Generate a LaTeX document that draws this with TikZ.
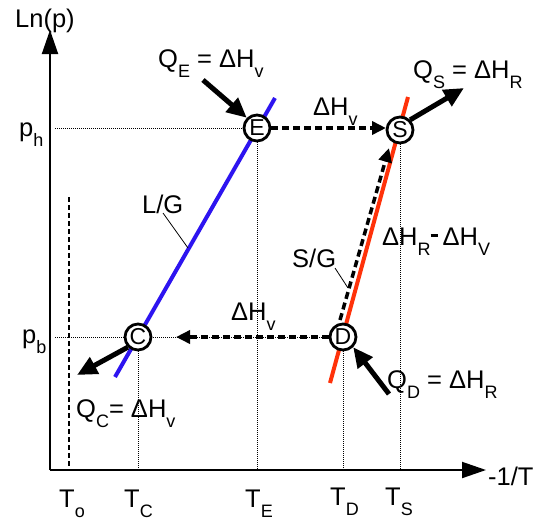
\documentclass[tikz,border=0pt]{standalone}
\usepackage{fontspec}
\setmainfont{Liberation Sans}
\usetikzlibrary{arrows.meta,calc}
\newcommand\sbs[1]{\raisebox{-0.4em}{\fontsize{18}{18}\selectfont #1}}
\definecolor{lgblue}{RGB}{45,20,240}
\definecolor{sgred}{RGB}{255,50,10}
\begin{document}
\begin{tikzpicture}[x=1pt,y=-1pt,
 lbl/.style={anchor=base west,inner sep=0,font=\fontsize{25.5}{28}\selectfont},
 state/.style={circle,draw,line width=2.8pt,fill=white,minimum size=26pt,inner sep=0,font=\fontsize{23}{23}\selectfont},
 axis/.style={line width=2pt,-{Triangle[length=24pt,width=16pt]}},
 guide/.style={line width=0.8pt,dash pattern=on 1pt off 1pt},
 heat/.style={line width=5pt,-{Triangle[length=20pt,width=18pt]}},
 flow/.style={line width=3.5pt,dash pattern=on 7pt off 4pt,-{Triangle[length=14pt,width=13pt]}},
 leader/.style={line width=0.8pt},
 equil/.style={line width=4pt}]
\useasboundingbox (0,0) rectangle (545,523);
% axes
\coordinate (O) at (50,470);
\coordinate (Ytop) at (50,30);
\coordinate (Xend) at (486,470);
\draw[axis] (O) -- (Ytop);
\draw[axis] (O) -- (Xend);
% equilibrium lines
\coordinate (LG1) at (115,377);
\coordinate (LG2) at (275,98);
\coordinate (SG1) at (330,383);
\coordinate (SG2) at (408,97);
% T_o line
\coordinate (To1) at (69,197);
\coordinate (To2) at (69,470);
\draw[line width=2.5pt,dash pattern=on 5pt off 3pt] (To1) -- (To2);
% guide lines
\coordinate (ph) at (55,128);
\coordinate (pb) at (55,337);
\coordinate (Ec) at (257,128);
\coordinate (Sc) at (400,130);
\coordinate (Cc) at (138,337);
\coordinate (Dc) at (343,337);
\draw[guide] (ph) -- (Ec);
\draw[guide] (pb) -- (Dc);
\draw[guide] (Ec) -- (Ec |- O);
\draw[guide] (Cc) -- (Cc |- O);
\draw[guide] (Dc) -- (Dc |- O);
\draw[guide] (Sc) -- (Sc |- O);
\draw[equil,lgblue] (LG1) -- (LG2);
\draw[equil,sgred] (SG1) -- (SG2);
% states
\node[state] (E) at (Ec) {E};
\node[state] (S) at (Sc) {S};
\node[state] (C) at (Cc) {C};
\node[state] (D) at (Dc) {D};
% flows
\coordinate (EStip) at (386,128);
\draw[flow] (E.east) -- (EStip);
\coordinate (DCtip) at (176,337);
\draw[flow] (D.west) -- (DCtip);
\coordinate (DS1) at (340,320);
\coordinate (DS2) at (389,148);
\draw[flow] (DS1) -- (DS2);
% heat arrows
\coordinate (QEt) at (203,80);
\draw[heat] (QEt) -- (E.north west);
\coordinate (QSt) at (464,88);
\draw[heat] (S.north east) -- (QSt);
\coordinate (QCt) at (77,375);
\draw[heat] (C.south west) -- (QCt);
\coordinate (QDt) at (389,394);
\draw[heat] (QDt) -- (D.south east);
% leaders
\coordinate (LGa) at (163,213);
\coordinate (LGb) at (188,248);
\draw[leader] (LGa) -- (LGb);
\coordinate (SGa) at (335,268);
\coordinate (SGb) at (348,288);
\draw[leader] (SGa) -- (SGb);
% labels
\node[lbl] (lnp) at (15,27) {Ln(p)};
\node[lbl] (phl) at (19,136) {p\sbs{h}};
\node[lbl] (pbl) at (22,343) {p\sbs{b}};
\node[lbl] (xl) at (488,485) {-1/T};
\node[lbl] (qe) at (158,67) {Q\sbs{E} = ΔH\sbs{v}};
\node[lbl] (qs) at (413,78) {Q\sbs{S} = ΔH\sbs{R}};
\node[lbl] (hv1) at (313,115) {ΔH\sbs{v}};
\node[lbl] (hrv) at (382,245) {ΔH\sbs{R}\rule[0.32em]{0.3em}{0.12em}\,ΔH\sbs{V}};
\node[lbl] (lg) at (142,213) {L/G};
\node[lbl] (sg) at (292,267) {S/G};
\node[lbl] (hv2) at (231,320) {ΔH\sbs{v}};
\node[lbl] (qc) at (76,417) {Q\sbs{C}= ΔH\sbs{v}};
\node[lbl] (qd) at (387,388) {Q\sbs{D} = ΔH\sbs{R}};
\node[lbl] (to) at (59,507) {T\sbs{o}};
\node[lbl] (tc) at (124,507) {T\sbs{C}};
\node[lbl] (te) at (245,507) {T\sbs{E}};
\node[lbl] (td) at (330,505) {T\sbs{D}};
\node[lbl] (ts) at (385,505) {T\sbs{S}};
\end{tikzpicture}
\end{document}
